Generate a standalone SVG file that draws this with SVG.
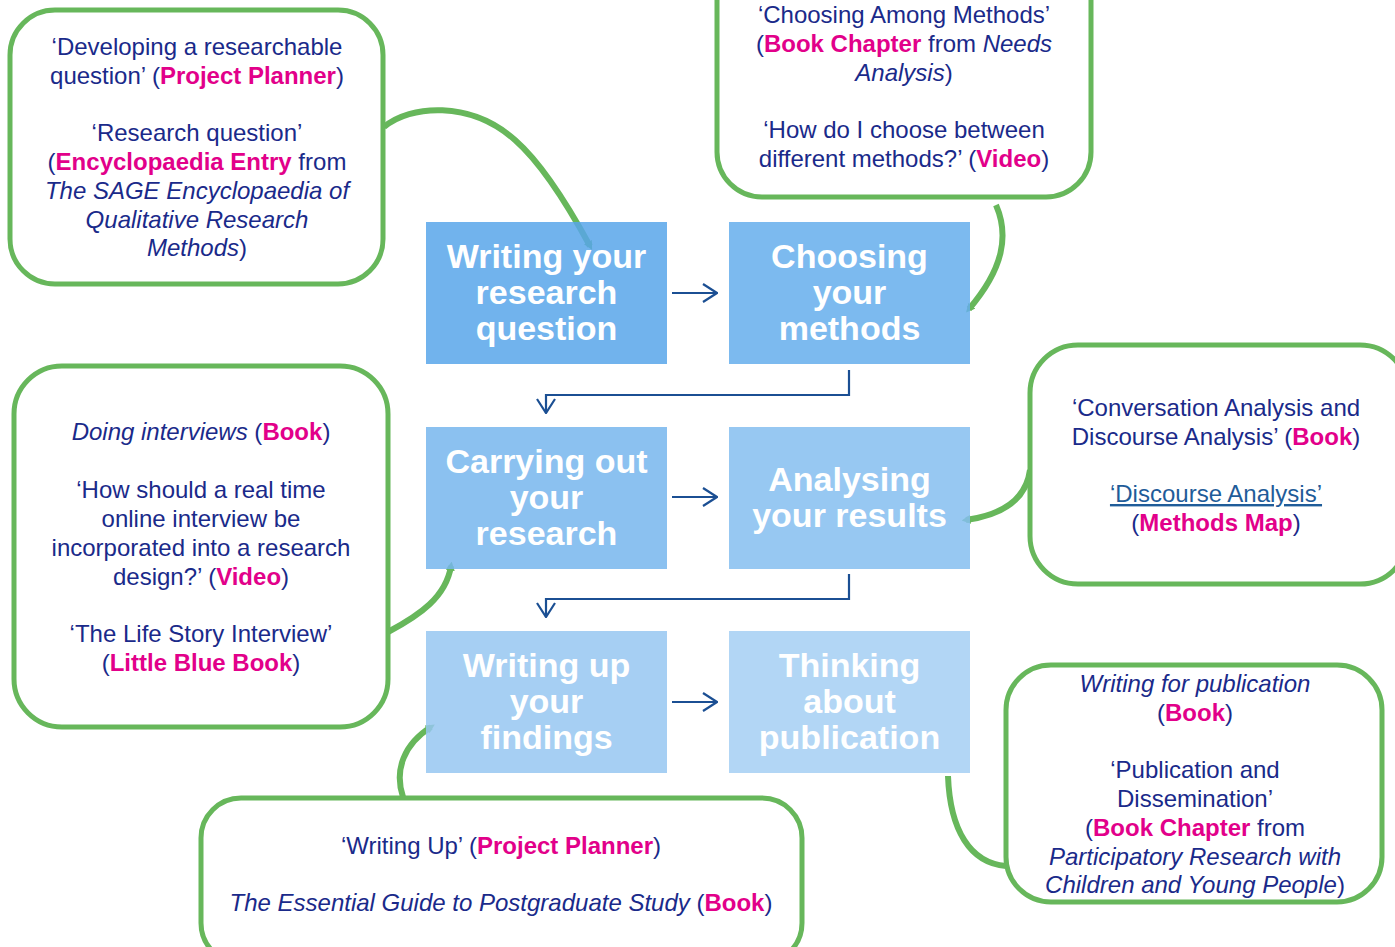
<svg xmlns="http://www.w3.org/2000/svg" xmlns:xlink="http://www.w3.org/1999/xlink" width="1395" height="947" viewBox="0 0 1395 947">
<style>
.ct{font-family:"Liberation Sans",Arial,sans-serif;font-size:24px;fill:#1a2a8a;text-anchor:middle}
.pk{fill:#e2008a;font-weight:bold}
.it{font-style:italic}
.lk{fill:#1f5c99;text-decoration:underline}
.bx{font-family:"Liberation Sans",Arial,sans-serif;font-size:34px;font-weight:bold;fill:#ffffff;text-anchor:middle}
.cb{fill:#ffffff;stroke:#67b75b;stroke-width:5}
.st{fill-opacity:0.85}
.gc{fill:none;stroke:#67b75b;stroke-width:6}
.bl{fill:none;stroke:#1b4f93;stroke-width:2.2}
</style>
<defs>
<marker id="ah" viewBox="0 0 16 20" refX="15" refY="10" markerWidth="16" markerHeight="20" markerUnits="userSpaceOnUse" orient="auto">
<path d="M1,1 L15,10 L1,19" fill="none" stroke="#1b4f93" stroke-width="2.2"/>
</marker>
<marker id="th" viewBox="0 0 10 10" refX="5" refY="5" markerWidth="9" markerHeight="9" markerUnits="userSpaceOnUse" orient="auto">
<path d="M0,0 L10,5 L0,10 z" fill="#67b75b"/>
</marker>
</defs>

<g id="connectors">
<path class="bl" d="M672,293 H717" marker-end="url(#ah)"/>
<path class="bl" d="M672,497 H717" marker-end="url(#ah)"/>
<path class="bl" d="M672,702 H717" marker-end="url(#ah)"/>
<path class="bl" d="M849,370 V395 H546 V413" marker-end="url(#ah)"/>
<path class="bl" d="M849,574 V599 H546 V617" marker-end="url(#ah)"/>
<path class="gc" d="M384,127 C410,105 470,100 515,140 C540,162 565,200 590,246" marker-end="url(#th)"/>
<path class="gc" d="M996,205 C1009,235 1004,268 969,309" marker-end="url(#th)"/>
<path class="gc" d="M1030,470 C1026,500 1002,515 966,520" marker-end="url(#th)"/>
<path class="gc" d="M388,632 C420,615 446,597 451,566" marker-end="url(#th)"/>
<path class="gc" d="M403,797 C394,770 404,744 431,727" marker-end="url(#th)"/>
<path class="gc" d="M948,776 C950,830 970,863 1006,866"/>
</g>

<g id="callout-question">
<rect class="cb" x="10" y="10" width="373" height="274" rx="45"/>
<text class="ct" x="197" y="55">‘Developing a researchable</text>
<text class="ct" x="197" y="84">question’ (<tspan class="pk">Project Planner</tspan>)</text>
<text class="ct" x="197" y="141">‘Research question’</text>
<text class="ct" x="197" y="170">(<tspan class="pk">Encyclopaedia Entry</tspan> from</text>
<text class="ct it" x="197" y="199">The SAGE Encyclopaedia of</text>
<text class="ct it" x="197" y="228">Qualitative Research</text>
<text class="ct" x="197" y="256"><tspan class="it">Methods</tspan>)</text>
</g>

<g id="callout-methods">
<rect class="cb" x="717" y="-60" width="374" height="257" rx="45"/>
<text class="ct" x="904" y="23">‘Choosing Among Methods’</text>
<text class="ct" x="904" y="52">(<tspan class="pk">Book Chapter</tspan> from <tspan class="it">Needs</tspan></text>
<text class="ct" x="904" y="81"><tspan class="it">Analysis</tspan>)</text>
<text class="ct" x="904" y="138">‘How do I choose between</text>
<text class="ct" x="904" y="167">different methods?’ (<tspan class="pk">Video</tspan>)</text>
</g>

<g id="callout-analysis">
<rect class="cb" x="1030" y="345" width="378" height="239" rx="48"/>
<text class="ct" x="1216" y="416">‘Conversation Analysis and</text>
<text class="ct" x="1216" y="445">Discourse Analysis’ (<tspan class="pk">Book</tspan>)</text>
<text class="ct lk" x="1216" y="502">‘Discourse Analysis’</text>
<text class="ct" x="1216" y="531">(<tspan class="pk">Methods Map</tspan>)</text>
</g>

<g id="callout-research">
<rect class="cb" x="14" y="366" width="374" height="361" rx="48"/>
<text class="ct" x="201" y="440"><tspan class="it">Doing interviews</tspan> (<tspan class="pk">Book</tspan>)</text>
<text class="ct" x="201" y="498">‘How should a real time</text>
<text class="ct" x="201" y="527">online interview be</text>
<text class="ct" x="201" y="556">incorporated into a research</text>
<text class="ct" x="201" y="585">design?’ (<tspan class="pk">Video</tspan>)</text>
<text class="ct" x="201" y="642">‘The Life Story Interview’</text>
<text class="ct" x="201" y="671">(<tspan class="pk">Little Blue Book</tspan>)</text>
</g>

<g id="callout-publication">
<rect class="cb" x="1006" y="665" width="376" height="237" rx="45"/>
<text class="ct it" x="1195" y="692">Writing for publication</text>
<text class="ct" x="1195" y="721">(<tspan class="pk">Book</tspan>)</text>
<text class="ct" x="1195" y="778">‘Publication and</text>
<text class="ct" x="1195" y="807">Dissemination’</text>
<text class="ct" x="1195" y="836">(<tspan class="pk">Book Chapter</tspan> from</text>
<text class="ct it" x="1195" y="865">Participatory Research with</text>
<text class="ct" x="1195" y="893"><tspan class="it">Children and Young People</tspan>)</text>
</g>

<g id="callout-writingup">
<rect class="cb" x="201" y="798" width="601" height="165" rx="40"/>
<text class="ct" x="501" y="854">‘Writing Up’ (<tspan class="pk">Project Planner</tspan>)</text>
<text class="ct" x="501" y="911"><tspan class="it">The Essential Guide to Postgraduate Study</tspan> (<tspan class="pk">Book</tspan>)</text>
</g>

<g id="step-question">
<rect class="st" x="426" y="222" width="241" height="142" fill="#58a6ea"/>
<text class="bx" x="546.5" y="268">Writing your</text>
<text class="bx" x="546.5" y="304">research</text>
<text class="bx" x="546.5" y="340">question</text>
</g>
<g id="step-methods">
<rect class="st" x="729" y="222" width="241" height="142" fill="#65aeec"/>
<text class="bx" x="849.5" y="268">Choosing</text>
<text class="bx" x="849.5" y="304">your</text>
<text class="bx" x="849.5" y="340">methods</text>
</g>
<g id="step-research">
<rect class="st" x="426" y="427" width="241" height="142" fill="#77b6ed"/>
<text class="bx" x="546.5" y="473">Carrying out</text>
<text class="bx" x="546.5" y="509">your</text>
<text class="bx" x="546.5" y="545">research</text>
</g>
<g id="step-analysing">
<rect class="st" x="729" y="427" width="241" height="142" fill="#85bef0"/>
<text class="bx" x="849.5" y="491">Analysing</text>
<text class="bx" x="849.5" y="527">your results</text>
</g>
<g id="step-writingup">
<rect class="st" x="426" y="631" width="241" height="142" fill="#96c7f1"/>
<text class="bx" x="546.5" y="677">Writing up</text>
<text class="bx" x="546.5" y="713">your</text>
<text class="bx" x="546.5" y="749">findings</text>
</g>
<g id="step-publication">
<rect class="st" x="729" y="631" width="241" height="142" fill="#a4cff3"/>
<text class="bx" x="849.5" y="677">Thinking</text>
<text class="bx" x="849.5" y="713">about</text>
<text class="bx" x="849.5" y="749">publication</text>
</g>
</svg>
